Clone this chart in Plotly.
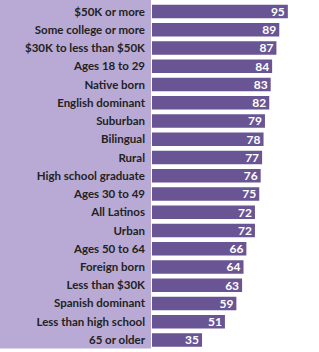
import plotly.graph_objects as go

categories = [
    "$50K or more", "Some college or more", "$30K to less than $50K",
    "Ages 18 to 29", "Native born", "English dominant", "Suburban",
    "Bilingual", "Rural", "High school graduate", "Ages 30 to 49",
    "All Latinos", "Urban", "Ages 50 to 64", "Foreign born",
    "Less than $30K", "Spanish dominant", "Less than high school", "65 or older",
]
values = [95, 89, 87, 84, 83, 82, 79, 78, 77, 76, 75, 72, 72, 66, 64, 63, 59, 51, 35]

W, H = 319, 352
BAR_COLOR = "#6a5594"
PANEL_COLOR = "#b9aad5"

fig = go.Figure(go.Bar(
    x=values,
    y=list(range(len(categories))),
    orientation="h",
    marker=dict(color=BAR_COLOR, line=dict(width=0)),
    text=[str(v) for v in values],
    textposition="inside",
    insidetextanchor="end",
    textangle=0,
    constraintext="none",
    textfont=dict(family="Lato", size=12, color="white", weight="bold"),
    cliponaxis=False,
    hoverinfo="skip",
))

left_px = 152
fig.update_layout(
    width=W, height=H,
    margin=dict(l=0, r=0, t=0, b=0),
    paper_bgcolor="white",
    plot_bgcolor="white",
    bargap=0.26,
    showlegend=False,
    uniformtext=dict(minsize=12, mode="show"),
    xaxis=dict(domain=[left_px / W, 1], range=[0, (W - left_px) / 1.43],
               visible=False, fixedrange=True),
    yaxis=dict(
        tickmode="array",
        tickvals=list(range(len(categories))),
        ticktext=categories,
        range=[18.66, -0.63],
        ticks="",
        showgrid=False, zeroline=False, showline=False,
        ticklabelstandoff=6,
        tickfont=dict(family="Lato", size=11.5, color="#222222", weight="bold"),
    ),
    shapes=[dict(type="rect", xref="paper", yref="paper",
                 x0=0, x1=151 / W, y0=0.01, y1=1,
                 fillcolor=PANEL_COLOR, line=dict(width=0), layer="below")],
)

fig.write_html("out.html")
